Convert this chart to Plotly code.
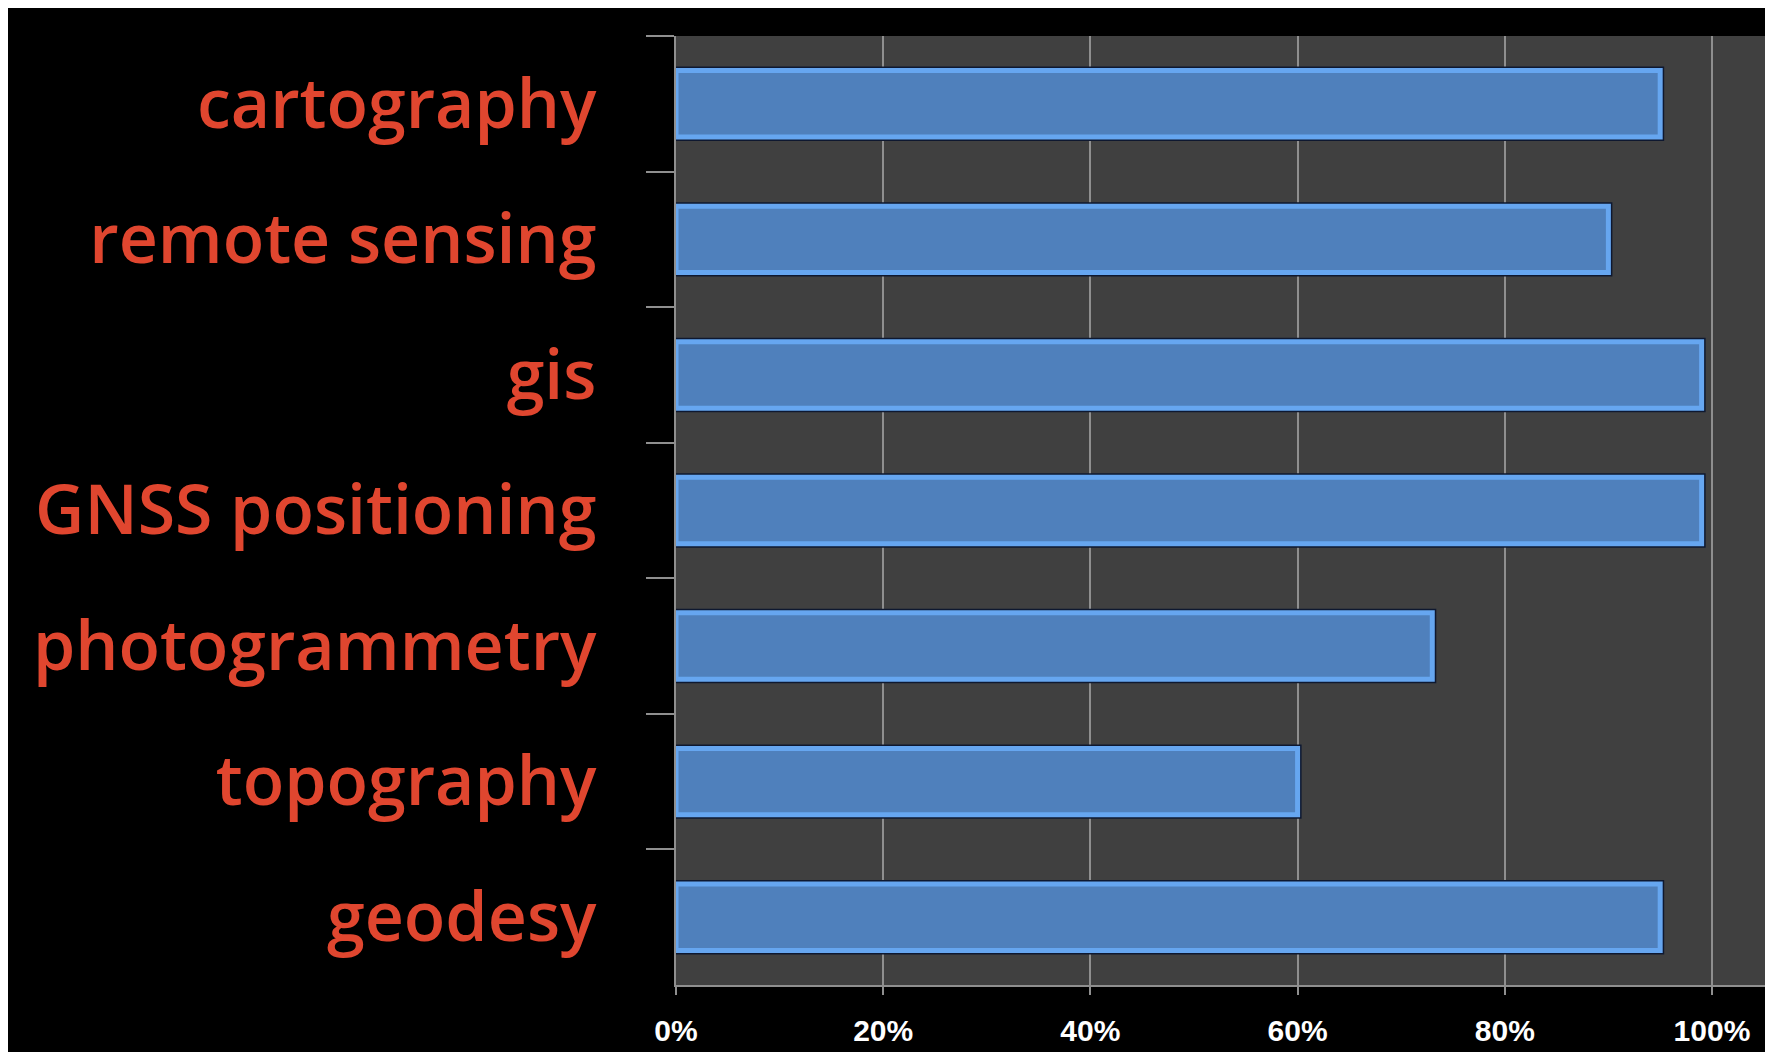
import plotly.graph_objects as go

categories = ["cartography", "remote sensing", "gis", "GNSS positioning",
              "photogrammetry", "topography", "geodesy"]
values = [95, 90, 99, 99, 73, 60, 95]
x_ticks = [0, 20, 40, 60, 80, 100]
x_tick_labels = ["0%", "20%", "40%", "60%", "80%", "100%"]

# page body adds an 8px offset, so the figure is sized to fit the window
W, H = 1765, 1044
ML, MR, MT, MB = 668, 3, 28, 67

fig = go.Figure()
# dark outer outline
fig.add_trace(go.Bar(
    y=categories, x=values, orientation="h", width=0.49,
    marker=dict(color="#4f80bc", line=dict(color="#0e1830", width=8)),
    hoverinfo="skip", showlegend=False,
))
# light bevel band + fill
fig.add_trace(go.Bar(
    y=categories, x=values, orientation="h", width=0.49,
    marker=dict(color="#4f80bc", line=dict(color="#66a6f0", width=5)),
    hoverinfo="x+y", showlegend=False,
))

fig.update_layout(
    width=W, height=H,
    margin=dict(l=ML, r=MR, t=MT, b=MB, pad=0, autoexpand=False),
    paper_bgcolor="black", plot_bgcolor="#404040",
    barmode="overlay",
    xaxis=dict(
        range=[0, 105.6], tickvals=x_ticks, ticktext=x_tick_labels,
        showgrid=True, gridcolor="#8f8f8f", gridwidth=2,
        ticks="outside", ticklen=8, tickcolor="#8f8f8f", tickwidth=2,
        ticklabelstandoff=10,
        tickfont=dict(family="Liberation Sans", size=30, color="white", weight="bold"),
        showline=True, linecolor="#8f8f8f", linewidth=2,
        zeroline=False, fixedrange=True, automargin=False,
    ),
    yaxis=dict(
        categoryorder="array", categoryarray=categories, autorange="reversed",
        tickson="boundaries", ticks="outside", ticklen=28, tickcolor="#8f8f8f", tickwidth=2,
        ticklabelstandoff=64,
        tickfont=dict(family="Open Sans", size=68, color="#e0462f", weight=600),
        showline=True, linecolor="#8f8f8f", linewidth=2,
        showgrid=False, zeroline=False, fixedrange=True, automargin=False,
    ),
)

fig.write_html("out.html")
